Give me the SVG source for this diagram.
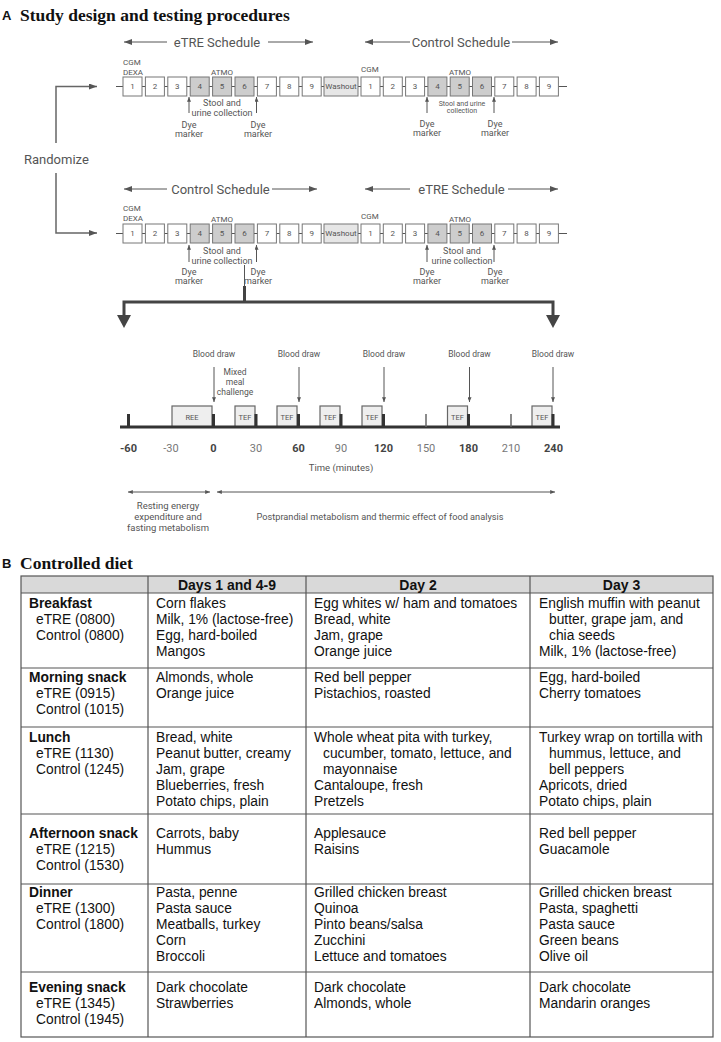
<svg xmlns="http://www.w3.org/2000/svg" width="721" height="1042" viewBox="0 0 721 1042">
<defs>
<style>
.r{font-family:Roboto,"Liberation Sans",sans-serif;fill:#555}
.c{text-anchor:middle}
.bx{fill:#fff;stroke:#777;stroke-width:1}
.bg{fill:#cdcdcd;stroke:#777;stroke-width:1}
.bw{fill:#e6e6e6;stroke:#777;stroke-width:1}
.tb{fill:#eee;stroke:#666;stroke-width:1.2}
.ln{stroke:#555;stroke-width:1;fill:none}
.lnm{stroke:#666;stroke-width:1.5;fill:none}
.th{stroke:#444;stroke-width:3;fill:none}
.a{font-family:"Liberation Sans",Arial,sans-serif;font-size:13.8px;fill:#111}
.ab{font-weight:bold}
.hd{font-family:"Liberation Sans",Arial,sans-serif;font-size:14px;font-weight:bold;fill:#111;text-anchor:middle}
.ttl{font-family:"Liberation Serif","Times New Roman",serif;font-weight:bold;font-size:17.5px;fill:#111}
.lbl{font-family:"Liberation Sans",Arial,sans-serif;font-weight:bold;font-size:13px;fill:#111}
.grid{stroke:#555;stroke-width:1.2;fill:none}
</style>
<marker id="ah" viewBox="0 0 8 6" refX="8" refY="3" markerWidth="8" markerHeight="6" markerUnits="userSpaceOnUse" orient="auto-start-reverse"><path d="M0,0L8,3L0,6z" fill="#555"/></marker>
<marker id="as" viewBox="0 0 6 5" refX="6" refY="2.5" markerWidth="5" markerHeight="4" markerUnits="userSpaceOnUse" orient="auto-start-reverse"><path d="M0,0L6,2.5L0,5z" fill="#555"/></marker>
</defs>
<rect width="721" height="1042" fill="#fff"/>

<!-- Titles -->
<text class="lbl" x="2" y="20">A</text>
<text class="ttl" x="20" y="21">Study design and testing procedures</text>
<text class="lbl" x="2" y="568">B</text>
<text class="ttl" x="20" y="569">Controlled diet</text>

<!-- Connectors -->
<g id="connectors">
  <line class="ln" x1="116" y1="86.5" x2="567" y2="86.5"/>
  <line class="ln" x1="116" y1="233.5" x2="567" y2="233.5"/>
  <polyline class="lnm" points="56,143 56,86.5 97,86.5" marker-end="url(#ah)"/>
  <polyline class="lnm" points="56,173 56,233 97,233" marker-end="url(#ah)"/>
  <line class="ln" x1="167" y1="42" x2="124" y2="42" marker-end="url(#ah)"/>
  <line class="ln" x1="268" y1="42" x2="313" y2="42" marker-end="url(#ah)"/>
  <line class="ln" x1="410" y1="42" x2="365" y2="42" marker-end="url(#ah)"/>
  <line class="ln" x1="512" y1="42" x2="558" y2="42" marker-end="url(#ah)"/>
  <line class="ln" x1="167" y1="189" x2="124" y2="189" marker-end="url(#ah)"/>
  <line class="ln" x1="272" y1="189" x2="317" y2="189" marker-end="url(#ah)"/>
  <line class="ln" x1="410" y1="189" x2="365" y2="189" marker-end="url(#ah)"/>
  <line class="ln" x1="508" y1="189" x2="558" y2="189" marker-end="url(#ah)"/>
  <line class="ln" x1="189" y1="113" x2="189" y2="97" marker-end="url(#as)"/>
  <line class="ln" x1="256.5" y1="113" x2="256.5" y2="97" marker-end="url(#as)"/>
  <line class="ln" x1="427" y1="113" x2="427" y2="97" marker-end="url(#as)"/>
  <line class="ln" x1="494" y1="113" x2="494" y2="97" marker-end="url(#as)"/>
  <line class="ln" x1="189" y1="262" x2="189" y2="245" marker-end="url(#as)"/>
  <line class="ln" x1="256.5" y1="262" x2="256.5" y2="245" marker-end="url(#as)"/>
  <line class="ln" x1="427" y1="262" x2="427" y2="245" marker-end="url(#as)"/>
  <line class="ln" x1="494" y1="262" x2="494" y2="245" marker-end="url(#as)"/>
  <line class="ln" x1="244.5" y1="265" x2="244.5" y2="286"/>
  <polyline class="th" points="244.5,286 244.5,302"/>
  <polyline class="th" points="124,316 124,302 553,302 553,316"/>
  <polygon points="117,315 131,315 124,328" fill="#444"/>
  <polygon points="546,315 560,315 553,328" fill="#444"/>
  <line class="ln" x1="214" y1="367" x2="214" y2="402" marker-end="url(#as)"/>
  <line class="ln" x1="299" y1="367" x2="299" y2="402" marker-end="url(#as)"/>
  <line class="ln" x1="384" y1="367" x2="384" y2="402" marker-end="url(#as)"/>
  <line class="ln" x1="469.5" y1="367" x2="469.5" y2="402" marker-end="url(#as)"/>
  <line class="ln" x1="553" y1="367" x2="553" y2="402" marker-end="url(#as)"/>
  <line class="ln" x1="128" y1="492" x2="210" y2="492" marker-start="url(#as)" marker-end="url(#as)"/>
  <line class="ln" x1="217" y1="492" x2="555" y2="492" marker-start="url(#as)" marker-end="url(#as)"/>
</g>

<text class="r" x="24" y="164" font-size="13">Randomize</text>

<g class="r c" font-size="13">
  <text x="217" y="46.5">eTRE Schedule</text>
  <text x="461" y="46.5">Control Schedule</text>
  <text x="220.5" y="193.5">Control Schedule</text>
  <text x="461.5" y="193.5">eTRE Schedule</text>
</g>

<!-- Row 1 -->
<g id="row1" class="r" font-size="8">
  <g id="r1a1"><rect class="bx" x="123" y="77" width="19" height="19"/><text class="c" x="132.5" y="89.3">1</text></g>
  <g id="r1a2"><rect class="bx" x="145.4" y="77" width="19" height="19"/><text class="c" x="154.9" y="89.3">2</text></g>
  <g id="r1a3"><rect class="bx" x="167.8" y="77" width="19" height="19"/><text class="c" x="177.3" y="89.3">3</text></g>
  <g id="r1a4"><rect class="bg" x="190.2" y="77" width="19" height="19"/><text class="c" x="199.7" y="89.3">4</text></g>
  <g id="r1a5"><rect class="bg" x="212.6" y="77" width="19" height="19"/><text class="c" x="222.1" y="89.3">5</text></g>
  <g id="r1a6"><rect class="bg" x="235" y="77" width="19" height="19"/><text class="c" x="244.5" y="89.3">6</text></g>
  <g id="r1a7"><rect class="bx" x="257.4" y="77" width="19" height="19"/><text class="c" x="266.9" y="89.3">7</text></g>
  <g id="r1a8"><rect class="bx" x="279.8" y="77" width="19" height="19"/><text class="c" x="289.3" y="89.3">8</text></g>
  <g id="r1a9"><rect class="bx" x="302.2" y="77" width="19" height="19"/><text class="c" x="311.7" y="89.3">9</text></g>
  <g id="r1w"><rect class="bw" x="324" y="77" width="34" height="19"/><text class="c" x="341" y="89.3">Washout</text></g>
  <g id="r1b1"><rect class="bx" x="361" y="77" width="19" height="19"/><text class="c" x="370.5" y="89.3">1</text></g>
  <g id="r1b2"><rect class="bx" x="383.3" y="77" width="19" height="19"/><text class="c" x="392.8" y="89.3">2</text></g>
  <g id="r1b3"><rect class="bx" x="405.6" y="77" width="19" height="19"/><text class="c" x="415.1" y="89.3">3</text></g>
  <g id="r1b4"><rect class="bg" x="427.9" y="77" width="19" height="19"/><text class="c" x="437.4" y="89.3">4</text></g>
  <g id="r1b5"><rect class="bg" x="450.2" y="77" width="19" height="19"/><text class="c" x="459.7" y="89.3">5</text></g>
  <g id="r1b6"><rect class="bg" x="472.5" y="77" width="19" height="19"/><text class="c" x="482" y="89.3">6</text></g>
  <g id="r1b7"><rect class="bx" x="494.8" y="77" width="19" height="19"/><text class="c" x="504.3" y="89.3">7</text></g>
  <g id="r1b8"><rect class="bx" x="517.1" y="77" width="19" height="19"/><text class="c" x="526.6" y="89.3">8</text></g>
  <g id="r1b9"><rect class="bx" x="539.4" y="77" width="19" height="19"/><text class="c" x="548.9" y="89.3">9</text></g>
  <text x="123" y="65">CGM</text>
  <text x="123" y="75">DEXA</text>
  <text class="c" x="222" y="75">ATMO</text>
  <text x="361" y="72">CGM</text>
  <text class="c" x="460" y="75">ATMO</text>
  <text class="c" x="222" y="106.2" font-size="9">Stool and</text>
  <text class="c" x="222" y="116.2" font-size="9">urine collection</text>
  <text class="c" x="462" y="105.5" font-size="7">Stool and urine</text>
  <text class="c" x="462" y="112.5" font-size="7">collection</text>
  <g font-size="9" class="c">
    <text x="189" y="128">Dye</text><text x="189" y="137">marker</text>
    <text x="258" y="128">Dye</text><text x="258" y="137">marker</text>
    <text x="427" y="127">Dye</text><text x="427" y="136">marker</text>
    <text x="495" y="127">Dye</text><text x="495" y="136">marker</text>
  </g>
</g>

<!-- Row 2 -->
<g id="row2" class="r" font-size="8">
  <g id="r2a1"><rect class="bx" x="123" y="224" width="19" height="19"/><text class="c" x="132.5" y="236.3">1</text></g>
  <g id="r2a2"><rect class="bx" x="145.4" y="224" width="19" height="19"/><text class="c" x="154.9" y="236.3">2</text></g>
  <g id="r2a3"><rect class="bx" x="167.8" y="224" width="19" height="19"/><text class="c" x="177.3" y="236.3">3</text></g>
  <g id="r2a4"><rect class="bg" x="190.2" y="224" width="19" height="19"/><text class="c" x="199.7" y="236.3">4</text></g>
  <g id="r2a5"><rect class="bg" x="212.6" y="224" width="19" height="19"/><text class="c" x="222.1" y="236.3">5</text></g>
  <g id="r2a6"><rect class="bg" x="235" y="224" width="19" height="19"/><text class="c" x="244.5" y="236.3">6</text></g>
  <g id="r2a7"><rect class="bx" x="257.4" y="224" width="19" height="19"/><text class="c" x="266.9" y="236.3">7</text></g>
  <g id="r2a8"><rect class="bx" x="279.8" y="224" width="19" height="19"/><text class="c" x="289.3" y="236.3">8</text></g>
  <g id="r2a9"><rect class="bx" x="302.2" y="224" width="19" height="19"/><text class="c" x="311.7" y="236.3">9</text></g>
  <g id="r2w"><rect class="bw" x="324" y="224" width="34" height="19"/><text class="c" x="341" y="236.3">Washout</text></g>
  <g id="r2b1"><rect class="bx" x="361" y="224" width="19" height="19"/><text class="c" x="370.5" y="236.3">1</text></g>
  <g id="r2b2"><rect class="bx" x="383.3" y="224" width="19" height="19"/><text class="c" x="392.8" y="236.3">2</text></g>
  <g id="r2b3"><rect class="bx" x="405.6" y="224" width="19" height="19"/><text class="c" x="415.1" y="236.3">3</text></g>
  <g id="r2b4"><rect class="bg" x="427.9" y="224" width="19" height="19"/><text class="c" x="437.4" y="236.3">4</text></g>
  <g id="r2b5"><rect class="bg" x="450.2" y="224" width="19" height="19"/><text class="c" x="459.7" y="236.3">5</text></g>
  <g id="r2b6"><rect class="bg" x="472.5" y="224" width="19" height="19"/><text class="c" x="482" y="236.3">6</text></g>
  <g id="r2b7"><rect class="bx" x="494.8" y="224" width="19" height="19"/><text class="c" x="504.3" y="236.3">7</text></g>
  <g id="r2b8"><rect class="bx" x="517.1" y="224" width="19" height="19"/><text class="c" x="526.6" y="236.3">8</text></g>
  <g id="r2b9"><rect class="bx" x="539.4" y="224" width="19" height="19"/><text class="c" x="548.9" y="236.3">9</text></g>
  <text x="123" y="211">CGM</text>
  <text x="123" y="221">DEXA</text>
  <text class="c" x="222" y="222">ATMO</text>
  <text x="361" y="219">CGM</text>
  <text class="c" x="460" y="222">ATMO</text>
  <text class="c" x="222" y="254" font-size="9">Stool and</text>
  <text class="c" x="222" y="264" font-size="9">urine collection</text>
  <text class="c" x="462" y="254" font-size="9">Stool and</text>
  <text class="c" x="462" y="264" font-size="9">urine collection</text>
  <g font-size="9" class="c">
    <text x="189" y="275">Dye</text><text x="189" y="284">marker</text>
    <text x="258" y="275">Dye</text><text x="258" y="284">marker</text>
    <text x="427" y="275">Dye</text><text x="427" y="284">marker</text>
    <text x="495" y="275">Dye</text><text x="495" y="284">marker</text>
  </g>
</g>

<!-- Timeline -->
<g id="timeline" class="r">
  <g font-size="8.5" class="c">
    <text x="214" y="357">Blood draw</text>
    <text x="299" y="357">Blood draw</text>
    <text x="384" y="357">Blood draw</text>
    <text x="469.5" y="357">Blood draw</text>
    <text x="553" y="357">Blood draw</text>
    <text x="235" y="375">Mixed</text>
    <text x="235" y="385">meal</text>
    <text x="235" y="395">challenge</text>
  </g>
  <g id="ree"><rect class="tb" x="172" y="406" width="40" height="21"/><text class="c" x="192" y="419.5" font-size="7.5">REE</text></g>
  <g id="tef30"><rect class="tb" x="235" y="406" width="20" height="21"/><text class="c" x="245" y="419.5" font-size="7.5">TEF</text></g>
  <g id="tef60"><rect class="tb" x="277" y="406" width="20" height="21"/><text class="c" x="287" y="419.5" font-size="7.5">TEF</text></g>
  <g id="tef90"><rect class="tb" x="320" y="406" width="20" height="21"/><text class="c" x="330" y="419.5" font-size="7.5">TEF</text></g>
  <g id="tef120"><rect class="tb" x="362" y="406" width="20" height="21"/><text class="c" x="372" y="419.5" font-size="7.5">TEF</text></g>
  <g id="tef180"><rect class="tb" x="447.5" y="406" width="20" height="21"/><text class="c" x="457.5" y="419.5" font-size="7.5">TEF</text></g>
  <g id="tef240"><rect class="tb" x="532" y="406" width="20" height="21"/><text class="c" x="542" y="419.5" font-size="7.5">TEF</text></g>
  <line x1="120" y1="427" x2="560" y2="427" stroke="#333" stroke-width="3"/>
  <g fill="#333">
    <rect x="127" y="414" width="3" height="13"/>
    <rect x="212" y="414" width="3" height="13"/>
    <rect x="254.5" y="414" width="3" height="13"/>
    <rect x="297" y="414" width="3" height="13"/>
    <rect x="339.5" y="414" width="3" height="13"/>
    <rect x="382" y="414" width="3" height="13"/>
    <rect x="467" y="414" width="3" height="13"/>
    <rect x="551.5" y="414" width="3" height="13"/>
  </g>
  <line x1="426" y1="414" x2="426" y2="427" stroke="#666" stroke-width="1.5"/>
  <line x1="511" y1="414" x2="511" y2="427" stroke="#666" stroke-width="1.5"/>
  <g font-size="11" class="c">
    <text x="128.5" y="452" font-weight="bold" fill="#444">-60</text>
    <text x="171" y="452" fill="#777">-30</text>
    <text x="213.5" y="452" font-weight="bold" fill="#444">0</text>
    <text x="256" y="452" fill="#777">30</text>
    <text x="298.5" y="452" font-weight="bold" fill="#444">60</text>
    <text x="341" y="452" fill="#777">90</text>
    <text x="383.5" y="452" font-weight="bold" fill="#444">120</text>
    <text x="426" y="452" fill="#777">150</text>
    <text x="468.5" y="452" font-weight="bold" fill="#444">180</text>
    <text x="511" y="452" fill="#777">210</text>
    <text x="553.5" y="452" font-weight="bold" fill="#444">240</text>
  </g>
  <text class="c" x="341" y="471" font-size="9.5">Time (minutes)</text>
  <g font-size="9.5" class="c">
    <text x="168" y="508.5">Resting energy</text>
    <text x="168" y="520">expenditure  and</text>
    <text x="168" y="531">fasting metabolism</text>
    <text x="380" y="519.5" font-size="9.2">Postprandial metabolism and thermic effect of food analysis</text>
  </g>
</g>

<!-- Table -->
<g id="table">
  <rect x="21" y="576" width="692" height="17" fill="#d9d9d9"/>
  <rect class="grid" x="21" y="576" width="692" height="461"/>
  <g class="grid">
    <line x1="148" y1="576" x2="148" y2="1037"/>
    <line x1="306" y1="576" x2="306" y2="1037"/>
    <line x1="530" y1="576" x2="530" y2="1037"/>
    <line x1="21" y1="593" x2="713" y2="593"/>
    <line x1="21" y1="668" x2="713" y2="668"/>
    <line x1="21" y1="727" x2="713" y2="727"/>
    <line x1="21" y1="814" x2="713" y2="814"/>
    <line x1="21" y1="884" x2="713" y2="884"/>
    <line x1="21" y1="972" x2="713" y2="972"/>
  </g>
  <text class="hd" x="227" y="590">Days 1 and 4-9</text>
  <text class="hd" x="418" y="590">Day 2</text>
  <text class="hd" x="621.5" y="590">Day 3</text>

  <g id="breakfast" class="a">
    <text x="29" y="608"><tspan class="ab">Breakfast</tspan><tspan x="36" dy="16">eTRE (0800)</tspan><tspan x="36" dy="16">Control (0800)</tspan></text>
    <text x="156" y="608">Corn flakes<tspan x="156" dy="16">Milk, 1% (lactose-free)</tspan><tspan x="156" dy="16">Egg, hard-boiled</tspan><tspan x="156" dy="16">Mangos</tspan></text>
    <text x="314" y="608">Egg whites w/ ham and tomatoes<tspan x="314" dy="16">Bread, white</tspan><tspan x="314" dy="16">Jam, grape</tspan><tspan x="314" dy="16">Orange juice</tspan></text>
    <text x="539" y="608">English muffin with peanut<tspan x="549" dy="16">butter, grape jam, and</tspan><tspan x="549" dy="16">chia seeds</tspan><tspan x="539" dy="16">Milk, 1% (lactose-free)</tspan></text>
  </g>
  <g id="morning" class="a">
    <text x="29" y="682"><tspan class="ab">Morning snack</tspan><tspan x="36" dy="16">eTRE (0915)</tspan><tspan x="36" dy="16">Control (1015)</tspan></text>
    <text x="156" y="682">Almonds, whole<tspan x="156" dy="16">Orange juice</tspan></text>
    <text x="314" y="682">Red bell pepper<tspan x="314" dy="16">Pistachios, roasted</tspan></text>
    <text x="539" y="682">Egg, hard-boiled<tspan x="539" dy="16">Cherry tomatoes</tspan></text>
  </g>
  <g id="lunch" class="a">
    <text x="29" y="741.5"><tspan class="ab">Lunch</tspan><tspan x="36" dy="16">eTRE (1130)</tspan><tspan x="36" dy="16">Control (1245)</tspan></text>
    <text x="156" y="741.5">Bread, white<tspan x="156" dy="16">Peanut butter, creamy</tspan><tspan x="156" dy="16">Jam, grape</tspan><tspan x="156" dy="16">Blueberries, fresh</tspan><tspan x="156" dy="16">Potato chips, plain</tspan></text>
    <text x="314" y="741.5">Whole wheat pita with turkey,<tspan x="323" dy="16">cucumber, tomato, lettuce, and</tspan><tspan x="323" dy="16">mayonnaise</tspan><tspan x="314" dy="16">Cantaloupe, fresh</tspan><tspan x="314" dy="16">Pretzels</tspan></text>
    <text x="539" y="741.5">Turkey wrap on tortilla with<tspan x="549" dy="16">hummus, lettuce, and</tspan><tspan x="549" dy="16">bell peppers</tspan><tspan x="539" dy="16">Apricots, dried</tspan><tspan x="539" dy="16">Potato chips, plain</tspan></text>
  </g>
  <g id="afternoon" class="a">
    <text x="29" y="837.5"><tspan class="ab">Afternoon snack</tspan><tspan x="36" dy="16">eTRE (1215)</tspan><tspan x="36" dy="16">Control (1530)</tspan></text>
    <text x="156" y="837.5">Carrots, baby<tspan x="156" dy="16">Hummus</tspan></text>
    <text x="314" y="837.5">Applesauce<tspan x="314" dy="16">Raisins</tspan></text>
    <text x="539" y="837.5">Red bell pepper<tspan x="539" dy="16">Guacamole</tspan></text>
  </g>
  <g id="dinner" class="a">
    <text x="29" y="896.5"><tspan class="ab">Dinner</tspan><tspan x="36" dy="16">eTRE (1300)</tspan><tspan x="36" dy="16">Control (1800)</tspan></text>
    <text x="156" y="896.5">Pasta, penne<tspan x="156" dy="16">Pasta sauce</tspan><tspan x="156" dy="16">Meatballs, turkey</tspan><tspan x="156" dy="16">Corn</tspan><tspan x="156" dy="16">Broccoli</tspan></text>
    <text x="314" y="896.5">Grilled chicken breast<tspan x="314" dy="16">Quinoa</tspan><tspan x="314" dy="16">Pinto beans/salsa</tspan><tspan x="314" dy="16">Zucchini</tspan><tspan x="314" dy="16">Lettuce and tomatoes</tspan></text>
    <text x="539" y="896.5">Grilled chicken breast<tspan x="539" dy="16">Pasta, spaghetti</tspan><tspan x="539" dy="16">Pasta sauce</tspan><tspan x="539" dy="16">Green beans</tspan><tspan x="539" dy="16">Olive oil</tspan></text>
  </g>
  <g id="evening" class="a">
    <text x="29" y="992"><tspan class="ab">Evening snack</tspan><tspan x="36" dy="16">eTRE (1345)</tspan><tspan x="36" dy="16">Control (1945)</tspan></text>
    <text x="156" y="992">Dark chocolate<tspan x="156" dy="16">Strawberries</tspan></text>
    <text x="314" y="992">Dark chocolate<tspan x="314" dy="16">Almonds, whole</tspan></text>
    <text x="539" y="992">Dark chocolate<tspan x="539" dy="16">Mandarin oranges</tspan></text>
  </g>
</g>
</svg>
